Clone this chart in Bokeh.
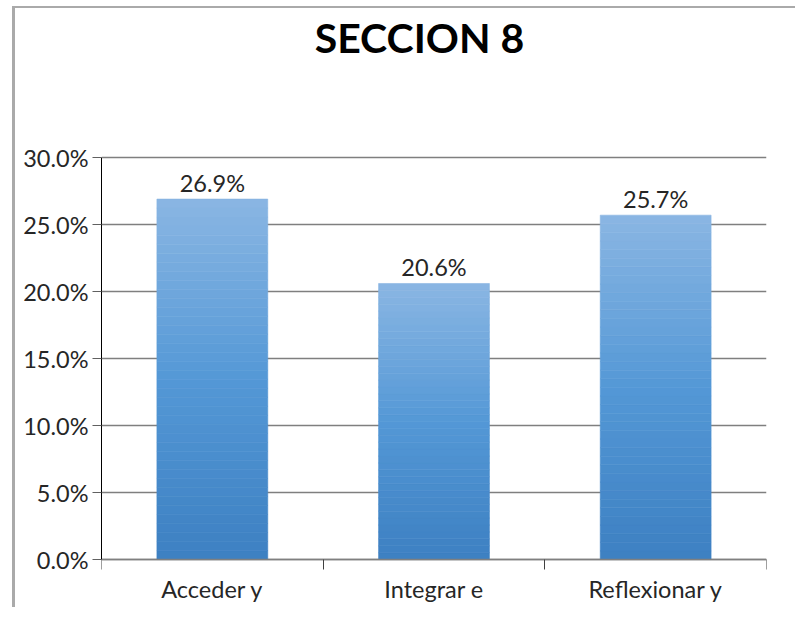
from bokeh.plotting import figure
from bokeh.models import Range1d, FixedTicker, NumeralTickFormatter, ColumnDataSource
from bokeh.core.properties import value
from bokeh.embed import file_html
from bokeh.resources import INLINE

# ---- data ----
title_text = "SECCION 8"
categories = ["Acceder y\nRecuperar", "Integrar e\nInterpretar", "Reflexionar y\nevaluar"]
values = [0.269, 0.206, 0.257]
value_labels = ["26.9%", "20.6%", "25.7%"]
y_ticks = [0.0, 0.05, 0.10, 0.15, 0.20, 0.25, 0.30]

FONT = "Lato"
TXT = "#262626"

# The frame spans the full canvas height: 0..30% is the chart area, the band above
# holds the title and the band below 0 holds the (cut-off) category labels.
p = figure(width=795, height=607, output_backend="svg", toolbar_location=None,
           x_range=Range1d(0, 3), y_range=Range1d(-0.0358, 0.4172),
           min_border_left=101, min_border_right=29, min_border_top=0, min_border_bottom=0)
p.border_fill_color = None
p.background_fill_color = None
p.outline_line_color = None
p.styles = {"background": "linear-gradient(#aaaaaa,#aaaaaa) 12px 6px / 3px 100% no-repeat, "
                          "linear-gradient(#aaaaaa,#aaaaaa) 12px 6px / 100% 2px no-repeat, white"}

# x axis at y = 0 (takes no layout space), tick marks only
p.xaxis.fixed_location = 0
p.xaxis.ticker = FixedTicker(ticks=[], minor_ticks=[0, 1, 2, 3])
p.xaxis.minor_tick_out = 10
p.xaxis.minor_tick_in = 0
p.xaxis.minor_tick_line_color = "#404040"
p.xaxis.major_tick_line_color = None
p.xaxis.axis_line_color = "#808080"
p.xaxis.axis_line_width = 1.5

p.yaxis.bounds = (0, 0.30)
p.yaxis.ticker = FixedTicker(ticks=y_ticks)
p.yaxis.formatter = NumeralTickFormatter(format="0.0%")
p.yaxis.major_tick_out = 9
p.yaxis.major_tick_in = 0
p.yaxis.minor_tick_line_color = None
p.yaxis.axis_line_color = "black"
p.yaxis.major_tick_line_color = "#606060"
p.yaxis.major_label_text_font = FONT
p.yaxis.major_label_text_font_size = "23.5px"
p.yaxis.major_label_text_color = TXT
p.yaxis.major_label_standoff = 4

p.xgrid.grid_line_color = None
p.ygrid.ticker = FixedTicker(ticks=y_ticks)
p.ygrid.grid_line_color = "#7f7f7f"
p.ygrid.grid_line_width = 1.5

# gradient bars (stacked bands, colour by relative height in each bar)
stops = [(0.0, (61, 128, 194)), (0.5, (84, 152, 214)), (1.0, (138, 182, 227))]
def col(t):
    for (t0, c0), (t1, c1) in zip(stops[:-1], stops[1:]):
        if t <= t1:
            f = (t - t0) / (t1 - t0)
            return "#%02x%02x%02x" % tuple(int(round(a + (b - a) * f)) for a, b in zip(c0, c1))
    return "#%02x%02x%02x" % stops[-1][1]

N = 40
xs, bots, tops, colors = [], [], [], []
for i, v in enumerate(values):
    for k in range(N):
        xs.append(i + 0.5)
        bots.append(v * k / N)
        tops.append(v * (k + 1) / N)
        colors.append(col((k + 0.5) / N))
src = ColumnDataSource(dict(x=xs, bottom=bots, top=tops, color=colors))
p.vbar(x="x", bottom="bottom", top="top", width=0.5, fill_color="color", line_color="color",
       line_width=0.6, source=src)

# value labels above bars
lsrc = ColumnDataSource(dict(x=[i + 0.5 for i in range(len(values))], y=values, t=value_labels))
p.text(x="x", y="y", text="t", source=lsrc, text_align="center", text_baseline="bottom",
       y_offset=-2, text_font=value(FONT), text_font_size="23.5px", text_color=TXT)

# category labels below the axis
csrc = ColumnDataSource(dict(x=[i + 0.5 for i in range(len(categories))],
                             y=[-0.0119] * len(categories), t=categories))
p.text(x="x", y="y", text="t", source=csrc, text_align="center", text_baseline="top",
       text_font=value(FONT), text_font_size="23.5px", text_color=TXT, text_line_height=1.25)

# chart title in the band above the plot area
p.text(x=[1.4346], y=[0.3896], text=[title_text], text_align="center", text_baseline="middle",
       text_font=value(FONT), text_font_style="bold", text_font_size="41px", text_color="black")

open("out.html", "w").write(file_html(p, INLINE))
